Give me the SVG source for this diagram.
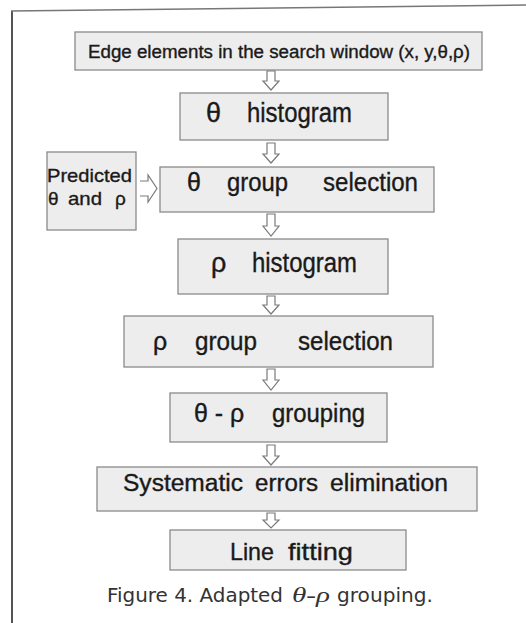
<svg xmlns="http://www.w3.org/2000/svg" width="526" height="623" viewBox="0 0 526 623">
<style>
.box{fill:#ededed;stroke:#8a8a8a;stroke-width:1.3}
.t{font-family:"Liberation Sans",Arial,sans-serif;fill:#1a1a1a;stroke:#1a1a1a;stroke-width:0.35}
.arr{fill:#ffffff;stroke:#7a7a7a;stroke-width:1.2;stroke-linejoin:miter}
.cap{font-family:"DejaVu Sans","Liberation Sans",sans-serif;fill:#333;font-size:19px}
</style>
<rect width="526" height="623" fill="#ffffff"/>
<g id="frame">
<line x1="12" y1="11" x2="12" y2="623" stroke="#555" stroke-width="2"/>
<line x1="11" y1="11" x2="526" y2="5" stroke="#777" stroke-width="1.5"/>
</g>
<g id="n1">
<rect class="box" x="75" y="32" width="407" height="38"/>
<text class="t" x="88" y="58" font-size="18" textLength="382" lengthAdjust="spacingAndGlyphs">Edge elements in the search window (x, y,θ,ρ)</text>
</g>
<g id="n2">
<rect class="box" x="180" y="93" width="208" height="47"/>
<text class="t" x="206" y="122" font-size="27"><tspan>θ</tspan><tspan x="247" textLength="105" lengthAdjust="spacingAndGlyphs">histogram</tspan></text>
</g>
<g id="n3">
<rect class="box" x="160" y="167" width="274" height="45"/>
<text class="t" x="187" y="191" font-size="25"><tspan>θ</tspan><tspan x="227" textLength="61" lengthAdjust="spacingAndGlyphs">group</tspan><tspan x="323" textLength="95" lengthAdjust="spacingAndGlyphs">selection</tspan></text>
</g>
<g id="np">
<rect class="box" x="47" y="152" width="89" height="78"/>
<text class="t" x="47" y="182" font-size="19" textLength="85" lengthAdjust="spacingAndGlyphs">Predicted</text>
<text class="t" x="48" y="205" font-size="19"><tspan>θ</tspan><tspan x="68" textLength="34" lengthAdjust="spacingAndGlyphs">and</tspan><tspan x="115">ρ</tspan></text>
</g>
<g id="n4">
<rect class="box" x="178" y="239" width="210" height="55"/>
<text class="t" x="211" y="272" font-size="27"><tspan>ρ</tspan><tspan x="252" textLength="105" lengthAdjust="spacingAndGlyphs">histogram</tspan></text>
</g>
<g id="n5">
<rect class="box" x="124" y="316" width="309" height="51"/>
<text class="t" x="153" y="350" font-size="25"><tspan>ρ</tspan><tspan x="195" textLength="62" lengthAdjust="spacingAndGlyphs">group</tspan><tspan x="298" textLength="95" lengthAdjust="spacingAndGlyphs">selection</tspan></text>
</g>
<g id="n6">
<rect class="box" x="170" y="393" width="217" height="49"/>
<text class="t" x="194" y="422" font-size="25"><tspan>θ - ρ</tspan><tspan x="272" textLength="93" lengthAdjust="spacingAndGlyphs">grouping</tspan></text>
</g>
<g id="n7">
<rect class="box" x="97" y="467" width="380" height="44"/>
<text class="t" x="123" y="491" font-size="23"><tspan textLength="120" lengthAdjust="spacingAndGlyphs">Systematic</tspan><tspan x="255" textLength="63" lengthAdjust="spacingAndGlyphs">errors</tspan><tspan x="330" textLength="118" lengthAdjust="spacingAndGlyphs">elimination</tspan></text>
</g>
<g id="n8">
<rect class="box" x="170" y="530" width="236" height="40"/>
<text class="t" x="230" y="560" font-size="24"><tspan textLength="44" lengthAdjust="spacingAndGlyphs">Line</tspan><tspan x="288" textLength="65" lengthAdjust="spacingAndGlyphs">fitting</tspan></text>
</g>
<g id="connectors">
<path class="arr" d="M267 71 H275 V81 H279 L271 90 L263 81 H267 Z"/>
<path class="arr" d="M267 143 H275 V154 H279 L271 163 L263 154 H267 Z"/>
<path class="arr" d="M267 214 H275 V226 H279 L271 236 L263 226 H267 Z"/>
<path class="arr" d="M267 296 H275 V305 H279 L271 314 L263 305 H267 Z"/>
<path class="arr" d="M267 369 H275 V380 H279 L271 390 L263 380 H267 Z"/>
<path class="arr" d="M267 445 H275 V456 H279 L271 465 L263 456 H267 Z"/>
<path class="arr" d="M267 513 H275 V520 H279 L271 528 L263 520 H267 Z"/>
<path class="arr" d="M140 181 H148 V175 L157 188.5 L148 202 V196 H140"/>
</g>
<g id="caption">
<text class="cap" x="107" y="602"><tspan textLength="176" lengthAdjust="spacingAndGlyphs">Figure 4. Adapted</tspan><tspan x="292" font-family="'Liberation Serif',serif" font-style="italic" font-size="21" textLength="38" lengthAdjust="spacingAndGlyphs">θ-ρ</tspan><tspan x="337" textLength="96" lengthAdjust="spacingAndGlyphs">grouping.</tspan></text>
</g>
</svg>
